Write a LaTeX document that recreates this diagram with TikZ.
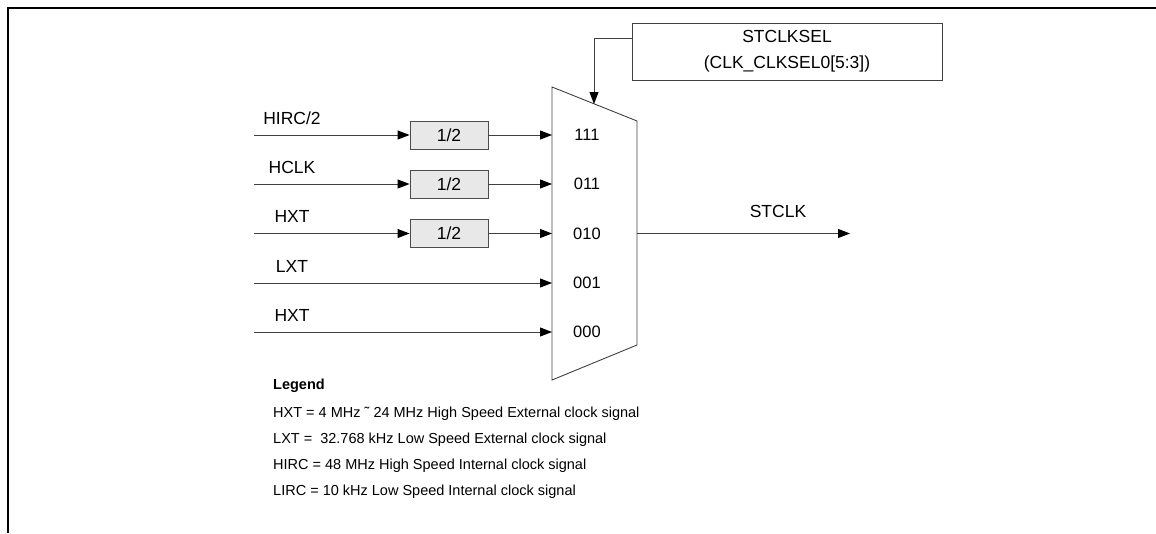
\documentclass[tikz,border=0pt]{standalone}
\usepackage{fontspec}
\setmainfont{Liberation Sans}
\usetikzlibrary{arrows.meta}
\begin{document}
\begin{tikzpicture}[x=1pt,y=-1pt,
  wire/.style={draw=black!75, line width=0.9pt},
  arr/.style={wire, -{Triangle[length=12pt,width=9pt,fill=black,color=black]}},
  lbl/.style={font=\fontsize{17.5}{20}\selectfont, inner sep=0pt},
  portlbl/.style={font=\fontsize{16.5}{19}\selectfont, inner sep=0pt},
  divbox/.style={draw=black!70, line width=0.9pt, fill=black!9, minimum width=78pt, minimum height=28pt, inner sep=0pt, font=\fontsize{17.5}{20}\selectfont},
  selbox/.style={draw=black!75, line width=0.9pt, minimum width=310pt, minimum height=57pt, inner sep=0pt, align=center, font=\fontsize{17.5}{26}\selectfont},
  legend/.style={font=\fontsize{14.5}{17}\selectfont, anchor=west, inner sep=0pt}]
\useasboundingbox (0,0) rectangle (1156,533);
% frame
\draw[line width=2pt] (8,533) -- (8,8) -- (1156,8);
% multiplexer
\coordinate (m1) at (552,87);
\coordinate (m2) at (637,121);
\coordinate (m3) at (637,345);
\coordinate (m4) at (552,380);
\draw[draw=black!75, line width=0.9pt] (m1) -- (m2) -- (m3) -- (m4) -- cycle;
% ports
\coordinate (p1) at (552,135);
\coordinate (p2) at (552,184);
\coordinate (p3) at (552,233.5);
\coordinate (p4) at (552,283);
\coordinate (p5) at (552,332);
\node[portlbl] (n1) at (587,135) {111};
\node[portlbl] (n2) at (587,184) {011};
\node[portlbl] (n3) at (587,233.5) {010};
\node[portlbl] (n4) at (587,283) {001};
\node[portlbl] (n5) at (587,332) {000};
% selector
\node[selbox] (sel) at (787,51.5) {STCLKSEL\\(CLK\_CLKSEL0[5:3])};
\coordinate (selin) at (594,104);
\draw[arr] ([yshift=13.5pt]sel.west) -| (selin);
% inputs
\coordinate (s1) at (254,135);
\coordinate (s2) at (254,184);
\coordinate (s3) at (254,233.5);
\coordinate (s4) at (254,283);
\coordinate (s5) at (254,332);
\node[lbl] (l1) at (292,118) {HIRC/2};
\node[lbl] (l2) at (292,167) {HCLK};
\node[lbl] (l3) at (292,216.5) {HXT};
\node[lbl] (l4) at (292,266) {LXT};
\node[lbl] (l5) at (292,315) {HXT};
\node[divbox] (d1) at (449,135) {1/2};
\node[divbox] (d2) at (449,184) {1/2};
\node[divbox] (d3) at (449,233.5) {1/2};
\draw[arr] (s1) -- (d1);
\draw[arr] (d1) -- (p1);
\draw[arr] (s2) -- (d2);
\draw[arr] (d2) -- (p2);
\draw[arr] (s3) -- (d3);
\draw[arr] (d3) -- (p3);
\draw[arr] (s4) -- (p4);
\draw[arr] (s5) -- (p5);
% output
\coordinate (mout) at (637,233.5);
\coordinate (out) at (850,233.5);
\draw[arr] (mout) -- (out);
\node[lbl] (stclk) at (778,211) {STCLK};
% legend
\node[legend] (lg) at (273,386) {\textbf{Legend}};
\node[legend] (lg1) at (273,414) {HXT = 4 MHz ˜ 24 MHz High Speed External clock signal};
\node[legend] (lg2) at (273,440) {LXT = \ 32.768 kHz Low Speed External clock signal};
\node[legend] (lg3) at (273,466) {HIRC = 48 MHz High Speed Internal clock signal};
\node[legend] (lg4) at (273,492) {LIRC = 10 kHz Low Speed Internal clock signal};
\end{tikzpicture}
\end{document}
